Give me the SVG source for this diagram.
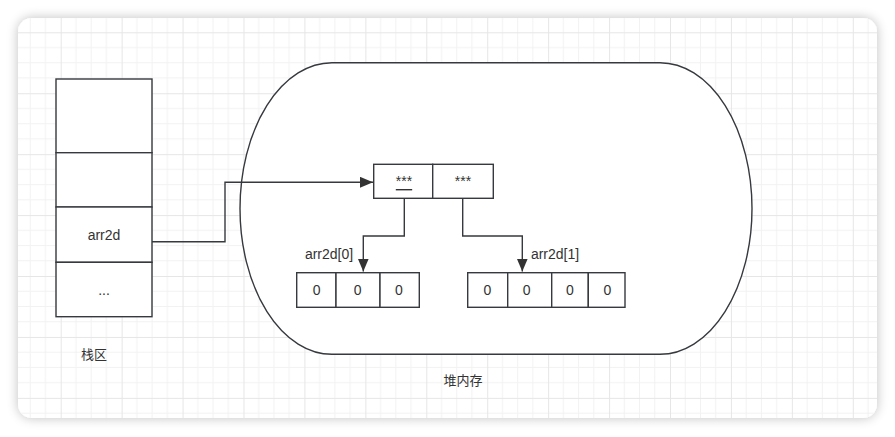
<svg xmlns="http://www.w3.org/2000/svg" width="895" height="437" viewBox="0 0 895 437">
<defs>
<filter id="sh" x="-10%" y="-10%" width="120%" height="120%">
<feGaussianBlur in="SourceAlpha" stdDeviation="6"/>
<feOffset dx="0" dy="0"/>
<feComponentTransfer><feFuncA type="linear" slope="0.25"/></feComponentTransfer>
<feMerge><feMergeNode/><feMergeNode in="SourceGraphic"/></feMerge>
</filter>
<pattern id="grid" patternUnits="userSpaceOnUse" x="60.7" y="32.3" width="60.93" height="60.93">
<path d="M15.23 0V60.93M30.46 0V60.93M45.7 0V60.93M0 15.23H60.93M0 30.46H60.93M0 45.7H60.93" stroke="#f2f2f2" stroke-width="1" fill="none"/>
<path d="M0.5 0V60.93M0 0.5H60.93" stroke="#e6e6e6" stroke-width="1" fill="none"/>
</pattern>
<clipPath id="cardclip"><rect x="18" y="18" width="859" height="400" rx="14"/></clipPath>
<marker id="arr" markerUnits="userSpaceOnUse" markerWidth="14" markerHeight="12" refX="13" refY="5.5" orient="auto">
<path d="M0 0L13 5.5L0 11Z" fill="#333"/>
</marker>
<style>
.s{fill:#fff;stroke:#36393d;stroke-width:1.4}
.c{fill:none;stroke:#36393d;stroke-width:1.4}
.t{font-family:"Liberation Sans","Noto Sans CJK SC",sans-serif;font-size:14px;fill:#333;text-anchor:middle;dominant-baseline:central}
.z{font-family:"Noto Sans CJK SC","Liberation Sans",sans-serif;font-size:13px;fill:#333;text-anchor:middle;dominant-baseline:central}
</style>
</defs>
<rect width="895" height="437" fill="#fff"/>
<rect x="18" y="18" width="859" height="400" rx="14" fill="#fff" filter="url(#sh)"/>
<rect x="18" y="18" width="859" height="400" fill="url(#grid)" clip-path="url(#cardclip)"/>

<g id="heap">
<rect class="s" x="240" y="62.7" width="512" height="291.6" rx="92" ry="145.8"/>
<text class="z" x="463" y="379">堆内存</text>
</g>

<g id="stack">
<rect class="s" x="56" y="79" width="96" height="73.7"/>
<rect class="s" x="56" y="152.7" width="96" height="54.3"/>
<rect class="s" x="56" y="207" width="96" height="55.3"/>
<text class="t" x="104" y="235">arr2d</text>
<rect class="s" x="56" y="262.3" width="96" height="54.4"/>
<text class="t" x="104" y="290">...</text>
<text class="z" x="94" y="353">栈区</text>
</g>

<g id="ptrs">
<rect class="s" x="373.7" y="164.3" width="59" height="34"/>
<text class="t" x="404" y="181" text-decoration="underline">***</text>
<rect class="s" x="432.7" y="164.3" width="60.6" height="34"/>
<text class="t" x="463" y="181">***</text>
</g>

<g id="arr0">
<rect class="s" x="296.7" y="272.7" width="39.3" height="34.6"/>
<text class="t" x="316.7" y="290">0</text>
<rect class="s" x="336" y="272.7" width="44" height="34.6"/>
<text class="t" x="357.7" y="290">0</text>
<rect class="s" x="380" y="272.7" width="39.3" height="34.6"/>
<text class="t" x="399" y="290">0</text>
</g>

<g id="arr1">
<rect class="s" x="467.7" y="272.7" width="40" height="34.6"/>
<text class="t" x="487.3" y="290">0</text>
<rect class="s" x="507.7" y="272.7" width="44" height="34.6"/>
<text class="t" x="526.7" y="290">0</text>
<rect class="s" x="551.7" y="272.7" width="36.6" height="34.6"/>
<text class="t" x="570" y="290">0</text>
<rect class="s" x="588.3" y="272.7" width="36.7" height="34.6"/>
<text class="t" x="607.3" y="290">0</text>
</g>

<g id="connectors">
<path class="c" d="M152 241.7H225V182.3H373" marker-end="url(#arr)"/>
<path class="c" d="M404.3 198.3V236H363.3V271.5" marker-end="url(#arr)"/>
<path class="c" d="M462.7 198.3V236H522.3V271.5" marker-end="url(#arr)"/>
<text class="t" x="329" y="254">arr2d[0]</text>
<text class="t" x="555" y="254">arr2d[1]</text>
</g>
</svg>
